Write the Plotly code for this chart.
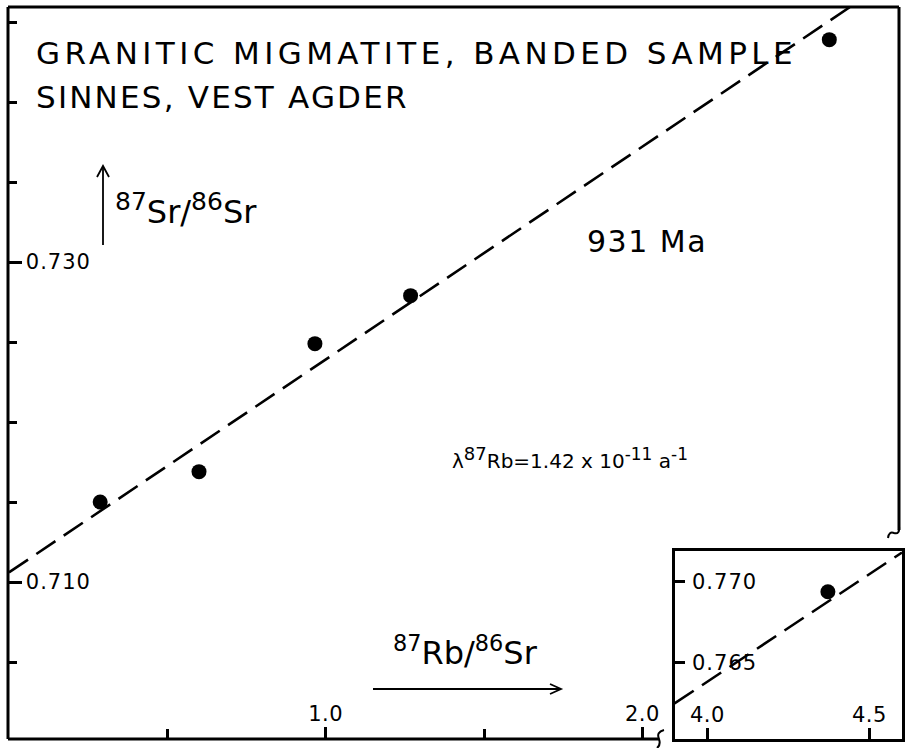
import numpy as np
import plotly.graph_objects as go

W, H = 905, 748

# ---- data ----
rb_sr_main = [0.288, 0.600, 0.966, 1.268, 2.590]
sr_sr_main = [0.7150, 0.7169, 0.7249, 0.7279, 0.7439]
rb_sr_inset = [4.372]
sr_sr_inset = [0.7694]

age_ma = 931
decay_const = 1.42e-11
sr_initial = 0.7106

main_xtickvals = [1.0, 2.0]
main_xticktext = ["1.0", "2.0"]
main_xminor = [0.5, 1.5]
main_ytickvals = [0.710, 0.730]
main_yticktext = ["0.710", "0.730"]
main_yminor = [0.705, 0.715, 0.720, 0.725, 0.735, 0.740, 0.745]
inset_xtickvals = [4.0, 4.5]
inset_xticktext = ["4.0", "4.5"]
inset_ytickvals = [0.765, 0.770]
inset_yticktext = ["0.765", "0.770"]

slope = np.exp(decay_const * age_ma * 1e6) - 1


def isochron(x):
    return sr_initial + slope * np.asarray(x)


def px(x):
    return x / W


def py(y):
    return (H - y) / H


FONT = "DejaVu Sans"
LW = 3
DASH = "23px,10px"


def spaced(t, s):
    return f'<span style="letter-spacing:{s}px">{t}</span>'


def sup(t, size):
    return f'<sup><span style="font-size:{size}px">{t}</span></sup>'


main_line_x = np.array([0.0, 2.81])
inset_line_x = np.array([3.90, 4.60])

fig = go.Figure()
fig.add_trace(go.Scatter(x=main_line_x, y=isochron(main_line_x), mode="lines",
                         line=dict(color="black", width=2.6, dash=DASH),
                         xaxis="x", yaxis="y", showlegend=False, hoverinfo="skip"))
fig.add_trace(go.Scatter(x=rb_sr_main, y=sr_sr_main, mode="markers",
                         marker=dict(color="black", size=15),
                         xaxis="x", yaxis="y", showlegend=False))
fig.add_trace(go.Scatter(x=inset_line_x, y=isochron(inset_line_x), mode="lines",
                         line=dict(color="black", width=2.6, dash=DASH),
                         xaxis="x2", yaxis="y2", showlegend=False, hoverinfo="skip"))
fig.add_trace(go.Scatter(x=rb_sr_inset, y=sr_sr_inset, mode="markers",
                         marker=dict(color="black", size=15),
                         xaxis="x2", yaxis="y2", showlegend=False))

tickfont = dict(family=FONT, size=21, color="black")

fig.update_layout(
    width=W, height=H,
    margin=dict(l=0, r=0, t=0, b=0),
    paper_bgcolor="white", plot_bgcolor="rgba(0,0,0,0)",
    xaxis=dict(domain=[px(8), px(899)], range=[-0.003, 2.81],
               showgrid=False, zeroline=False, showline=False,
               tickmode="array", tickvals=main_xtickvals,
               ticktext=[spaced(t, 0.5) for t in main_xticktext],
               ticks="inside", ticklen=12, tickwidth=2.5, tickcolor="black",
               ticklabelposition="inside", ticklabelstandoff=3, tickfont=tickfont,
               minor=dict(tickvals=main_xminor, ticks="inside", ticklen=10,
                          tickwidth=2.5, tickcolor="black"),
               anchor="y", fixedrange=True),
    yaxis=dict(domain=[py(739), py(7)], range=[0.70019, 0.74594],
               showgrid=False, zeroline=False, showline=False,
               tickmode="array", tickvals=main_ytickvals,
               ticktext=[spaced(t, 1) for t in main_yticktext],
               ticks="inside", ticklen=14, tickwidth=2.5, tickcolor="black",
               ticklabelposition="inside", ticklabelstandoff=5, tickfont=tickfont,
               minor=dict(tickvals=main_yminor, ticks="inside", ticklen=9,
                          tickwidth=2.5, tickcolor="black"),
               anchor="x", fixedrange=True),
    xaxis2=dict(domain=[px(675), px(902)], range=[3.9015, 4.600],
                showgrid=False, zeroline=False, showline=True, mirror=True,
                linewidth=LW, linecolor="black",
                tickmode="array", tickvals=inset_xtickvals, showticklabels=False,
                ticks="inside", ticklen=11, tickwidth=2.5, tickcolor="black",
                anchor="y2", fixedrange=True),
    yaxis2=dict(domain=[py(739), py(551)], range=[0.76031, 0.77191],
                showgrid=False, zeroline=False, showline=True, mirror=True,
                linewidth=LW, linecolor="black",
                tickmode="array", tickvals=inset_ytickvals, showticklabels=False,
                ticks="inside", ticklen=10, tickwidth=2.5, tickcolor="black",
                anchor="x2", fixedrange=True),
)

line_style = dict(color="black", width=LW)
arrow_style = dict(color="black", width=1.8)
shapes = [
    # left frame
    dict(type="line", xref="x domain", yref="y domain", x0=0, x1=0, y0=0, y1=1, line=line_style),
    # top frame
    dict(type="line", xref="x domain", yref="y domain", x0=0, x1=1, y0=1, y1=1, line=line_style),
    # right frame (broken)
    dict(type="line", xref="x domain", yref="paper", x0=1, x1=1, y0=py(530), y1=py(7), line=line_style),
    # bottom axis (broken)
    dict(type="line", xref="paper", yref="y domain", x0=px(8), x1=px(659), y0=0, y1=0, line=line_style),
    # break marks
    dict(type="path", xref="paper", yref="paper",
         path=f"M {px(664)} {py(730)} Q {px(656)} {py(732)} {px(659)} {py(739)} Q {px(661)} {py(745)} {px(657)} {py(748)}",
         line=dict(color="black", width=2)),
    dict(type="path", xref="paper", yref="paper",
         path=f"M {px(899)} {py(526)} Q {px(900)} {py(535)} {px(894)} {py(533)} Q {px(889)} {py(531)} {px(888)} {py(538)}",
         line=dict(color="black", width=2)),
    # y-axis label arrow
    dict(type="line", xref="paper", yref="paper", x0=px(103), x1=px(103), y0=py(245), y1=py(166), line=arrow_style),
    dict(type="path", xref="paper", yref="paper",
         path=f"M {px(97)} {py(177)} L {px(103)} {py(166)} L {px(109)} {py(177)}", line=arrow_style),
    # x-axis label arrow
    dict(type="line", xref="paper", yref="paper", x0=px(373), x1=px(561), y0=py(689), y1=py(689), line=arrow_style),
    dict(type="path", xref="paper", yref="paper",
         path=f"M {px(550)} {py(684)} L {px(561)} {py(689)} L {px(550)} {py(694)}", line=arrow_style),
]
fig.update_layout(shapes=shapes)

big = dict(family=FONT, size=31, color="black")
annotations = [
    dict(text=spaced("GRANITIC MIGMATITE, BANDED SAMPLE", 4.4), x=px(34), y=py(53),
         xanchor="left", yanchor="middle", font=big),
    dict(text=spaced("SINNES, VEST AGDER", 2.2), x=px(34), y=py(97),
         xanchor="left", yanchor="middle", font=big),
    dict(text=spaced("931 Ma", 1.5), x=px(585), y=py(242),
         xanchor="left", yanchor="middle", font=dict(family=FONT, size=30, color="black")),
    dict(text=sup("87", 25) + "Sr/" + sup("86", 25) + "Sr", x=px(113), y=py(209),
         xanchor="left", yanchor="middle", font=dict(family=FONT, size=32, color="black")),
    dict(text="<sup>87</sup>Rb/<sup>86</sup>Sr", x=px(391), y=py(651),
         xanchor="left", yanchor="middle", font=dict(family=FONT, size=32, color="black")),
    dict(text="λ" + sup("87", 18) + "Rb=1.42 x 10" + sup("-11", 17) + " a" + sup("-1", 17),
         x=px(450), y=py(458),
         xanchor="left", yanchor="middle", font=dict(family=FONT, size=20, color="black")),
]
# inset tick labels
for v, t in zip(inset_xtickvals, inset_xticktext):
    annotations.append(dict(text=spaced(t, 0.5), x=v, xref="x2", y=py(715), yref="paper",
                            xanchor="center", yanchor="middle", font=tickfont))
for v, t in zip(inset_ytickvals, inset_yticktext):
    annotations.append(dict(text=spaced(t, 1), x=px(690), xref="paper", y=v, yref="y2",
                            xanchor="left", yanchor="middle", font=tickfont))
for a in annotations:
    a.setdefault("xref", "paper")
    a.setdefault("yref", "paper")
    a.setdefault("showarrow", False)
fig.update_layout(annotations=annotations)

fig.write_html("out.html")
